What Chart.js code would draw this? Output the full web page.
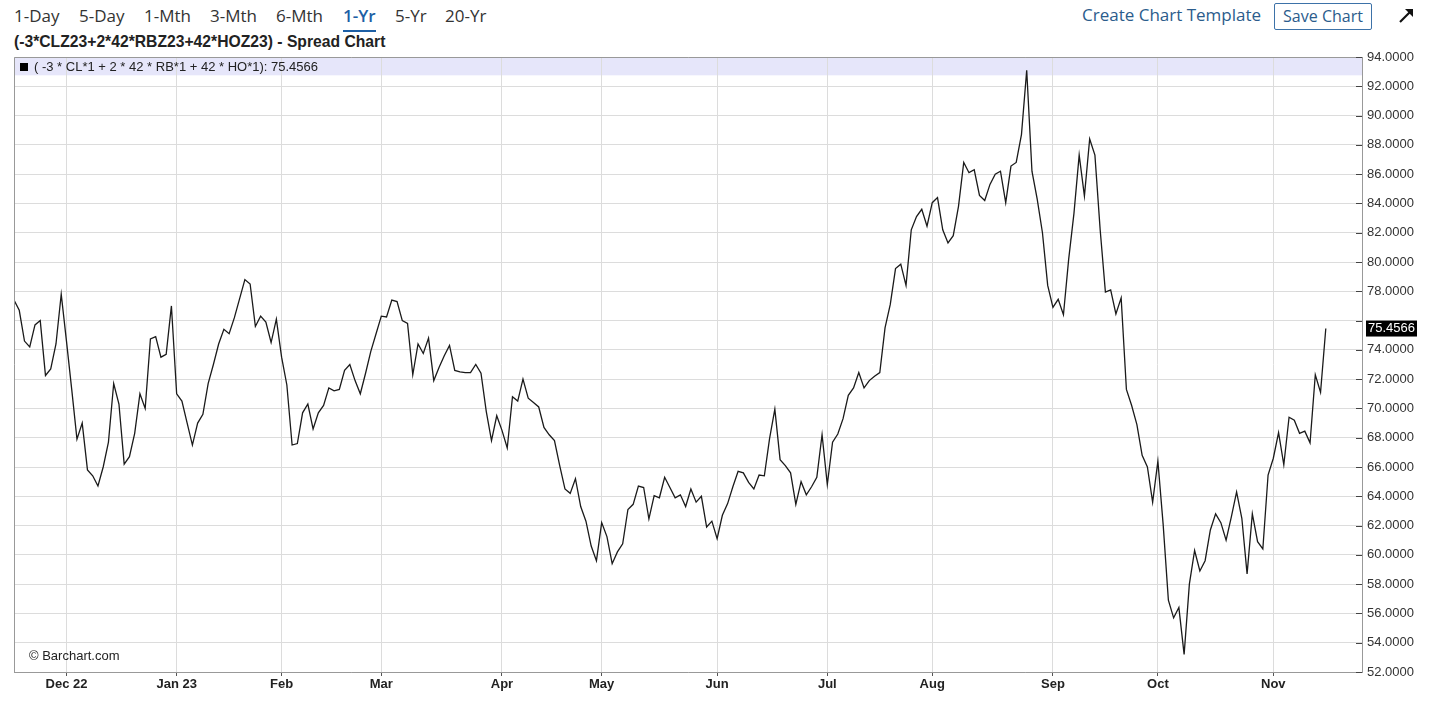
<!DOCTYPE html>
<html>
<head>
<meta charset="utf-8">
<script src="https://cdn.jsdelivr.net/npm/chart.js@4"></script>
<style>
  body { margin: 0; background: #fff; width: 1456px; height: 710px; overflow: hidden; position: relative; }
  #chart { position: absolute; left: 0; top: 0; }
  .nav { position: absolute; top: 4px; font: 17px "Open Sans", sans-serif; color: #333; }
  .nav.on { color: #1d5fa5; font-weight: 600; }
  #uline { position: absolute; left: 343px; top: 30px; width: 33px; height: 2px; background: #1d5fa5; }
  #tpl { position: absolute; left: 1082px; top: 3px; font: 17px "Open Sans", sans-serif; color: #2b5c8c; }
  #save { position: absolute; left: 1274px; top: 3px; width: 96px; height: 25px; border: 1px solid #3d72a8; border-radius: 2px;
          font: 16px "Open Sans", sans-serif; color: #2b5c8c; text-align: center; line-height: 25px; }
  #arrow { position: absolute; left: 1398px; top: 6px; }
  #title { position: absolute; left: 14px; top: 33px; font: bold 15.7px "Liberation Sans", Arial, sans-serif; color: #222; }
</style>
</head>
<body>
<span class="nav" style="left:14px">1-Day</span>
<span class="nav" style="left:79px">5-Day</span>
<span class="nav" style="left:144px">1-Mth</span>
<span class="nav" style="left:210px">3-Mth</span>
<span class="nav" style="left:276px">6-Mth</span>
<span class="nav on" style="left:343px">1-Yr</span>
<span class="nav" style="left:395px">5-Yr</span>
<span class="nav" style="left:445px">20-Yr</span>
<div id="uline"></div>
<span id="tpl">Create Chart Template</span>
<div id="save">Save Chart</div>
<svg id="arrow" width="18" height="18" viewBox="0 0 18 18"><path d="M2 16 L13 5" stroke="#111" stroke-width="2.2"/><path d="M7 3 L15 3 L15 11 Z" fill="#111"/></svg>
<div id="title">(-3*CLZ23+2*42*RBZ23+42*HOZ23) - Spread Chart</div>
<canvas id="chart" width="1456" height="710"></canvas>
<script>
// trading calendar (one point per session)
const startDate = '2022-11-16';
const endDate = '2023-11-15';
const marketHolidays = ['2022-11-24','2022-12-26','2023-01-02','2023-01-16','2023-02-20',
  '2023-04-07','2023-05-29','2023-06-19','2023-07-04','2023-09-04'];
const monthLabels = ['Dec 22','Jan 23','Feb','Mar','Apr','May','Jun','Jul','Aug','Sep','Oct','Nov'];

// (-3*CL + 2*42*RB + 42*HO) daily closes
const spreadValues = [
  77.4, 76.7, 74.6, 74.2, 75.7, 76.0, 72.25, 72.7, 74.4, 77.8,
  74.6, 71.3, 67.9, 69.0, 65.8, 65.4, 64.7, 66.0, 67.7, 71.7,
  70.3, 66.2, 66.7, 68.3, 71.0, 70.0, 74.75, 74.9, 73.5, 73.7,
  77.0, 71.0, 70.5, 69.0, 67.5, 69.0, 69.6, 71.7, 73.0, 74.4,
  75.4, 75.1, 76.2, 77.5, 78.8, 78.5, 75.6, 76.3, 75.9, 74.5,
  76.1, 73.5, 71.6, 67.5, 67.6, 69.7, 70.3, 68.6, 69.7, 70.2,
  71.4, 71.2, 71.3, 72.6, 73.0, 71.9, 71.0, 72.4, 73.9, 75.1,
  76.3, 76.25, 77.4, 77.3, 76.0, 75.8, 72.3, 74.4, 73.75, 74.8,
  71.9, 72.8, 73.6, 74.3, 72.6, 72.5, 72.45, 72.45, 73.0, 72.4,
  69.8, 67.8, 69.5, 68.5, 67.3, 70.8, 70.5, 72.0, 70.7, 70.4,
  70.1, 68.7, 68.2, 67.8, 66.1, 64.5, 64.2, 65.2, 63.3, 62.3,
  60.6, 59.6, 62.2, 61.25, 59.4, 60.2, 60.75, 63.1, 63.45, 64.7,
  64.6, 62.45, 64.05, 63.9, 65.3, 64.6, 63.9, 64.1, 63.3, 64.5,
  63.6, 64.0, 61.9, 62.3, 61.1, 62.7, 63.5, 64.65, 65.7, 65.6,
  64.95, 64.5, 65.45, 65.4, 67.95, 69.95, 66.5, 66.1, 65.6, 63.45,
  65.0, 64.1, 64.65, 65.3, 68.2, 64.8, 67.7, 68.25, 69.3, 70.9,
  71.4, 72.45, 71.4, 71.9, 72.2, 72.45, 75.5, 77.1, 79.55, 79.85,
  78.4, 82.2, 83.1, 83.6, 82.45, 84.05, 84.4, 82.2, 81.3, 81.8,
  83.8, 86.8, 86.1, 86.3, 84.55, 84.2, 85.3, 86.0, 86.2, 84.05,
  86.55, 86.8, 88.7, 93.1, 86.2, 84.3, 82.0, 78.4, 76.9, 77.45,
  76.4, 80.2, 83.3, 87.3, 84.5, 88.4, 87.3, 82.2, 77.95, 78.1,
  76.45, 77.55, 71.3, 70.2, 68.9, 66.8, 66.0, 63.6, 66.4, 62.1,
  56.9, 55.7, 56.4, 53.2, 58.0, 60.3, 58.9, 59.6, 61.7, 62.8,
  62.2, 61.0, 62.6, 64.3, 62.5, 58.7, 62.8, 60.9, 60.4, 65.45,
  66.6, 68.35, 66.15, 69.4, 69.2, 68.3, 68.45, 67.65, 72.3, 71.1,
  75.4566
];

const legendText = '( -3 * CL*1 + 2 * 42 * RB*1 + 42 * HO*1): ';

// build session dates
const tradingDays = [];
for (let d = new Date(startDate + 'T00:00:00Z'); d <= new Date(endDate + 'T00:00:00Z'); d.setUTCDate(d.getUTCDate() + 1)) {
  const wd = d.getUTCDay();
  const iso = d.toISOString().slice(0, 10);
  if (wd === 0 || wd === 6 || marketHolidays.includes(iso)) continue;
  tradingDays.push(iso);
}
const monthStarts = [];
tradingDays.forEach((iso, i) => {
  if (i > 0 && iso.slice(5, 7) !== tradingDays[i - 1].slice(5, 7)) monthStarts.push(i);
});

const lastValue = spreadValues[spreadValues.length - 1];
const axisFont = '"Liberation Sans", Arial, sans-serif';

const overlay = {
  id: 'overlay',
  beforeDraw(chart) {
    const { ctx, chartArea: a, scales } = chart;
    const yb = scales.y.getPixelForValue(92.75);
    ctx.save();
    ctx.fillStyle = '#e6e6fa';
    ctx.fillRect(a.left, a.top, a.right - a.left, yb - a.top);
    ctx.restore();
  },
  afterDraw(chart) {
    const { ctx, chartArea: a, scales } = chart;
    ctx.save();
    // left + top frame
    ctx.strokeStyle = '#999';
    ctx.lineWidth = 1;
    ctx.beginPath();
    ctx.moveTo(a.left + 0.5, a.bottom);
    ctx.lineTo(a.left + 0.5, a.top + 0.5);
    ctx.lineTo(a.right, a.top + 0.5);
    ctx.stroke();
    // inner y ticks
    ctx.strokeStyle = '#444';
    scales.y.ticks.forEach(t => {
      const y = Math.round(scales.y.getPixelForValue(t.value)) + 0.5;
      ctx.beginPath();
      ctx.moveTo(a.right - 6, y);
      ctx.lineTo(a.right, y);
      ctx.stroke();
    });
    // legend line in band
    ctx.fillStyle = '#000';
    ctx.fillRect(a.left + 6, a.top + 6, 8, 8);
    ctx.font = '13px ' + axisFont;
    ctx.textBaseline = 'middle';
    ctx.fillStyle = '#222';
    ctx.fillText(legendText + lastValue.toFixed(4), a.left + 20, a.top + 10);
    // copyright
    ctx.fillText('\u00a9 Barchart.com', a.left + 15, a.bottom - 16);
    // last value box
    const ly = scales.y.getPixelForValue(lastValue);
    const tw = ctx.measureText(lastValue.toFixed(4)).width;
    ctx.fillStyle = '#000';
    ctx.fillRect(a.right + 4, ly - 8, tw + 4, 16);
    ctx.fillStyle = '#fff';
    ctx.fillText(lastValue.toFixed(4), a.right + 6, ly);
    ctx.restore();
  }
};

new Chart(document.getElementById('chart'), {
  type: 'line',
  data: {
    datasets: [{
      data: spreadValues.map((v, i) => ({ x: i, y: v })),
      borderColor: '#1a1a1a',
      borderWidth: 1.3,
      pointRadius: 0,
      tension: 0,
      fill: false
    }]
  },
  options: {
    responsive: false,
    animation: false,
    devicePixelRatio: 1,
    layout: { padding: { top: 57, left: 14, right: 0, bottom: 0 } },
    plugins: { legend: { display: false }, tooltip: { enabled: false } },
    scales: {
      x: {
        type: 'linear',
        min: 0,
        max: 256.9,
        afterBuildTicks(axis) { axis.ticks = monthStarts.map(v => ({ value: v })); },
        afterFit(axis) { axis.height = 38; },
        ticks: {
          autoSkip: false,
          maxRotation: 0,
          padding: 1,
          color: '#222',
          font: { family: axisFont, size: 13, weight: 'bold' },
          callback: (v, i) => monthLabels[i]
        },
        grid: { color: '#dcdcdc', tickColor: '#555', tickLength: 4 },
        border: { color: '#999', width: 1 }
      },
      y: {
        position: 'right',
        min: 52,
        max: 94,
        afterFit(axis) { axis.width = 94; },
        ticks: {
          stepSize: 2,
          padding: 5,
          color: '#333',
          font: { family: axisFont, size: 13 },
          callback: v => (Math.abs(v - lastValue) < 1.2 ? '' : v.toFixed(4))
        },
        grid: { color: '#dcdcdc', drawTicks: false },
        border: { color: '#999', width: 1 }
      }
    }
  },
  plugins: [overlay]
});
</script>
</body>
</html>
